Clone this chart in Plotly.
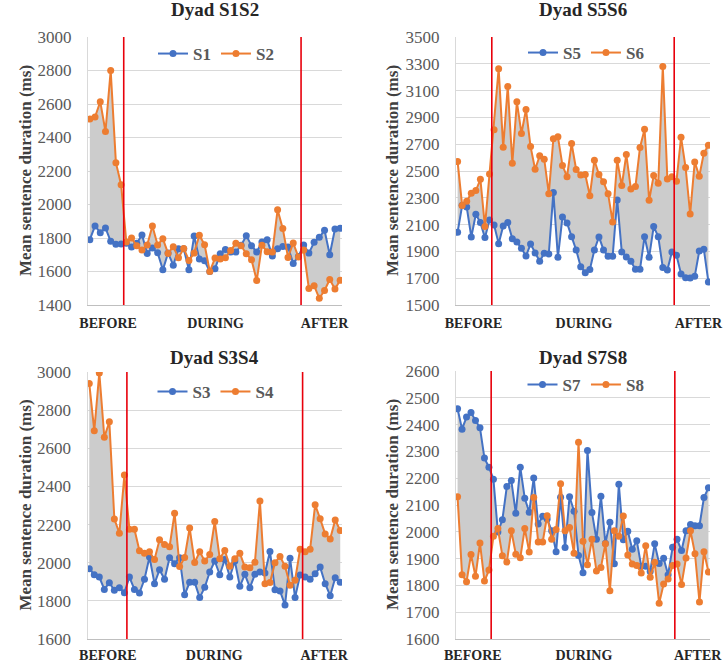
import plotly.graph_objects as go

# ---------------- data ----------------
phase_labels = ["BEFORE", "DURING", "AFTER"]

# Dyad S1S2
s1 = [1790, 1872, 1832, 1860, 1780, 1762, 1764,
      1768, 1746, 1768, 1818, 1708, 1740, 1712, 1610, 1710, 1638,
      1736, 1736, 1610, 1812, 1674, 1664, 1600, 1616, 1706, 1732,
      1716, 1716, 1756, 1814, 1754, 1716, 1776, 1790, 1692, 1736,
      1750, 1746, 1648, 1690,
      1758, 1710, 1774, 1804, 1846, 1700, 1854, 1858]
s2 = [2510, 2522, 2614, 2436, 2800, 2250, 2118,
      1776, 1800, 1754, 1728, 1758, 1872, 1758, 1796, 1708, 1748,
      1682, 1738, 1666, 1710, 1816, 1760, 1600, 1680, 1674, 1682,
      1726, 1768, 1754, 1706, 1670, 1546, 1756, 1718, 1716, 1968,
      1856, 1684, 1770, 1686,
      1728, 1498, 1515, 1440, 1487, 1552, 1496, 1548]
phases_12 = [7, 34, 8]
ticks_12 = [3.5, 24.1, 45.0]

# Dyad S5S6
s5 = [2042, 2244, 2231, 2008, 2177, 2115, 2003, 2135,
      2097, 1958, 2090, 2115, 1995, 1970, 1923, 1866, 1955, 1888,
      1826, 1886, 1881, 2339, 1856, 2157, 2112, 2010, 1911, 1786,
      1741, 1764, 1911, 2008, 1911, 1863, 1863, 2284, 1896, 1858,
      1826, 1766, 1766, 2010, 1856, 2085, 2010, 1779, 1761, 1896,
      1871, 1731, 1704, 1701, 1714, 1903, 1916, 1672]
s6 = [2570, 2242, 2274, 2334, 2354, 2438, 2085, 2478,
      2807, 3263, 2678, 3131, 2558, 3016, 2780, 2959, 2682, 2513,
      2613, 2588, 2331, 2740, 2755, 2541, 2458, 2705, 2511, 2471,
      2473, 2316, 2580, 2473, 2419, 2331, 2120, 2580, 2391, 2623,
      2366, 2384, 2675, 2812, 2282, 2466, 2409, 3280, 2441, 2458,
      2424, 2752, 2526, 2180, 2568, 2461, 2633, 2692]
phases_56 = [8, 40, 8]
ticks_56 = [3.5, 27.7, 52.8]

# Dyad S3S4
s3 = [1969, 1937, 1925, 1860, 1895, 1855, 1869, 1843,
      1925, 1860, 1841, 1913, 2030, 1890, 1963, 1913, 2026, 1995,
      2026, 1832, 1897, 1897, 1817, 1871, 1951, 2009, 1937, 2017,
      1925, 2009, 1876, 1939, 1869, 1939, 1951, 1946, 2059, 1858,
      1852, 1778, 2024, 1817, 1935,
      1925, 1913, 1942, 1977, 1890, 1827, 1921, 1897]
s4 = [2940, 2692, 2995, 2658, 2739, 2229, 2155, 2460,
      2175, 2175, 2063, 2050, 2057, 2017, 2120, 2096, 2084, 2260,
      1980, 2027, 2182, 2001, 2057, 2009, 2043, 2216, 2021, 2064,
      1981, 2021, 2050, 1977, 1974, 2002, 2323, 1890, 1896, 2000,
      2033, 1981, 1882, 1908, 2070,
      2057, 2070, 2304, 2230, 2151, 2125, 2224, 2169]
phases_34 = [8, 35, 8]
ticks_34 = [3.7, 24.9, 46.8]

# Dyad S7S8
s7 = [2459, 2383, 2428, 2445, 2415, 2388, 2275, 2241,
      2196, 1999, 2045, 2169, 2191, 2069, 2241, 2125, 2073, 2201,
      2029, 2058, 2048, 2004, 1926, 2129, 1941, 2131, 2077, 1912,
      1847, 2303, 2072, 1972, 2133, 1957, 2036, 1881, 2177, 1970,
      2002, 1935, 1967, 1871, 1871, 1852, 1955, 1882, 1901, 1840, 1942,
      1972, 1930, 2004, 2027, 2023, 2023, 2128, 2164]
s8 = [2131, 1840, 1814, 1915, 1834, 1958, 1816, 1857,
      1983, 2012, 1911, 1887, 2004, 1916, 1903, 2012, 1925, 2128,
      1962, 1962, 2060, 1972, 2009, 2179, 2004, 2016, 1920, 2334,
      1965, 1877, 1972, 1854, 1867, 1955, 1780, 2004, 1983, 2059,
      1913, 1880, 1874, 1846, 1948, 1830, 1886, 1733, 1805, 1824, 1874,
      1880, 1803, 1902, 2004, 1918, 1738, 1926, 1850]
phases_78 = [8, 41, 8]
ticks_78 = [3.4, 28.2, 53.6]

# ---------------- styling / layout ----------------
W, H = 723, 662
BLUE = "#4472C4"
ORANGE = "#ED7D31"
FILL = "rgb(204,204,204)"
GRID = "#d9d9d9"
SERIF = "Liberation Serif, Times New Roman, serif"

panels = [
    dict(title="Dyad S1S2", na="S1", nb="S2", a=s1, b=s2, phases=phases_12,
         ticks=ticks_12, yr=(1400, 3000), dt=200, box=(88, 342, 37, 305),
         leg=(216, 54), ytx=25, tty=10, xstand=5),
    dict(title="Dyad S5S6", na="S5", nb="S6", a=s5, b=s6, phases=phases_56,
         ticks=ticks_56, yr=(1500, 3500), dt=200, box=(456, 710, 37, 305),
         leg=(586, 53), ytx=392, tty=10, xstand=5),
    dict(title="Dyad S3S4", na="S3", nb="S4", a=s3, b=s4, phases=phases_34,
         ticks=ticks_34, yr=(1600, 3000), dt=200, box=(87.5, 342, 372, 639),
         leg=(216, 392), ytx=25, tty=357, xstand=3),
    dict(title="Dyad S7S8", na="S7", nb="S8", a=s7, b=s8, phases=phases_78,
         ticks=ticks_78, yr=(1600, 2600), dt=100, box=(456, 710, 371, 639),
         leg=(586, 385), ytx=392, tty=357, xstand=3),
]

fig = go.Figure()
layout = dict(width=W, height=H, margin=dict(l=0, r=0, t=0, b=0, autoexpand=False),
              paper_bgcolor="white", plot_bgcolor="white",
              font=dict(family=SERIF, color="#595959"),
              shapes=[], annotations=[])

for k, p in enumerate(panels, start=1):
    xa = "x" if k == 1 else f"x{k}"
    ya = "y" if k == 1 else f"y{k}"
    lg = "legend" if k == 1 else f"legend{k}"
    n = len(p["a"])
    xs = list(range(n))
    # fill between the two series
    fig.add_trace(go.Scatter(x=xs, y=p["a"], mode="lines", line=dict(width=0, color=FILL),
                             showlegend=False, hoverinfo="skip", xaxis=xa, yaxis=ya, legend=lg))
    fig.add_trace(go.Scatter(x=xs, y=p["b"], mode="lines", line=dict(width=0, color=FILL),
                             fill="tonexty", fillcolor=FILL, showlegend=False,
                             hoverinfo="skip", xaxis=xa, yaxis=ya, legend=lg))
    fig.add_trace(go.Scatter(x=xs, y=p["a"], mode="lines+markers", name=p["na"],
                             line=dict(color=BLUE, width=2), marker=dict(size=7, color=BLUE),
                             xaxis=xa, yaxis=ya, legend=lg))
    fig.add_trace(go.Scatter(x=xs, y=p["b"], mode="lines+markers", name=p["nb"],
                             line=dict(color=ORANGE, width=2), marker=dict(size=7, color=ORANGE),
                             xaxis=xa, yaxis=ya, legend=lg))

    x0, x1, y0, y1 = p["box"]
    xdom = [x0 / W, x1 / W]
    ydom = [1 - y1 / H, 1 - y0 / H]
    layout["xaxis" if k == 1 else f"xaxis{k}"] = dict(
        domain=xdom, anchor=ya, range=[-0.35, n - 1 + 0.35], automargin=False,
        showgrid=False, zeroline=False, showline=True, linecolor="#bfbfbf", linewidth=1,
        tickmode="array", tickvals=p["ticks"], ticktext=phase_labels, ticks="",
        tickfont=dict(family=SERIF, size=14, color="#262626", weight="bold"),
        ticklabelstandoff=p["xstand"], ticklabeloverflow="allow", fixedrange=True)
    lo, hi = p["yr"]
    layout["yaxis" if k == 1 else f"yaxis{k}"] = dict(
        domain=ydom, anchor=xa, range=[lo, hi], dtick=p["dt"], tick0=lo, automargin=False,
        showgrid=True, gridcolor=GRID, gridwidth=1, zeroline=False,
        showline=True, linecolor=GRID, linewidth=1, ticks="",
        tickfont=dict(family=SERIF, size=17, color="#595959"),
        ticklabelstandoff=12, ticklabeloverflow="allow", fixedrange=True)

    # phase boundary lines
    nb, nd, na_ = p["phases"]
    for bx in (nb - 0.5, nb + nd - 0.5):
        layout["shapes"].append(dict(type="line", xref=xa, yref=f"{ya} domain",
                                     x0=bx, x1=bx, y0=0, y1=1,
                                     line=dict(color="#e8000b", width=1.6)))

    # title and y-axis title
    layout["annotations"].append(dict(
        text=f"<b>{p['title']}</b>", x=(x0 + x1) / 2 / W, y=1 - p["tty"] / H,
        xref="paper", yref="paper", xanchor="center", yanchor="middle", showarrow=False,
        font=dict(family=SERIF, size=19, color="#262626")))
    layout["annotations"].append(dict(
        text="<b>Mean sentence duration (ms)</b>", x=p["ytx"] / W, y=1 - (y0 + y1) / 2 / H,
        xref="paper", yref="paper", xanchor="center", yanchor="middle", textangle=-90,
        showarrow=False, font=dict(family=SERIF, size=17, color="#404040")))

    lx, ly = p["leg"]
    layout[lg] = dict(orientation="h", x=lx / W, y=1 - ly / H, xanchor="center",
                      yanchor="middle", bgcolor="rgba(0,0,0,0)", traceorder="normal",
                      font=dict(family=SERIF, size=17, color="#595959", weight="bold"),
                      itemwidth=30, tracegroupgap=0)

fig.update_layout(**layout)
fig.write_html("out.html", config={"displayModeBar": False},
               post_script="document.body.style.margin='0';document.body.style.overflow='hidden';")
